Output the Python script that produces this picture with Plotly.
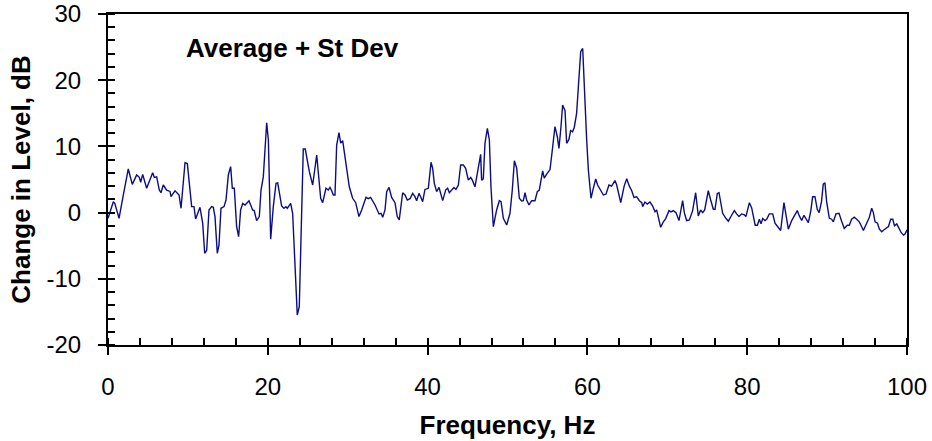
import plotly.graph_objects as go

freq = [0, 0.67, 0.85, 1.38, 1.92, 2.54, 3.04, 3.59, 3.92, 4.09, 4.34, 4.84, 5.59, 5.8, 6.09, 6.42, 6.63, 6.92,
        7.34, 7.76, 7.88, 8.39, 8.89, 9.14, 9.64, 9.93, 10.47, 10.76, 10.97, 11.51, 11.85, 12.1, 12.35, 12.64,
        12.97, 13.18, 13.39, 13.68, 13.89, 14.14, 14.52, 14.77, 15.06, 15.35, 15.56, 15.81, 16.1, 16.35, 16.6,
        16.86, 17.15, 17.65, 18.1, 18.3, 18.6, 18.94, 19.15, 19.44, 19.86, 20.07, 20.36, 20.69, 21.03, 21.24,
        21.73, 22.02, 22.27, 22.44, 22.86, 23.11, 23.69, 23.94, 24.44, 24.69, 25.2, 25.62, 26.12, 26.33, 26.62,
        26.87, 27.28, 27.57, 27.78, 28.0, 28.2, 28.41, 28.62, 28.91, 29.12, 29.37, 29.79, 30.2, 30.62, 31.0,
        31.41, 31.75, 32.29, 32.58, 32.87, 33.42, 33.92, 34.17, 34.38, 34.67, 34.88, 35.17, 35.5, 35.92, 36.2,
        36.45, 36.88, 37.17, 37.46, 37.8, 38.13, 38.42, 38.63, 38.92, 39.13, 39.38, 39.67, 40.09, 40.43, 40.63,
        40.84, 41.13, 41.43, 41.64, 41.89, 42.26, 42.51, 42.72, 43.1, 43.3, 43.55, 43.85, 44.14, 44.47, 44.76,
        45.1, 45.39, 45.6, 45.93, 46.35, 46.64, 46.76, 46.97, 47.18, 47.48, 47.73, 47.93, 48.23, 48.64, 48.98,
        49.19, 49.48, 49.9, 50.31, 50.6, 50.86, 51.15, 51.48, 51.77, 51.98, 52.19, 52.4, 52.69, 53.02, 53.44,
        53.73, 53.98, 54.4, 54.6, 54.9, 55.32, 55.61, 55.94, 56.23, 56.44, 56.69, 56.9, 57.2, 57.4, 57.69, 57.9,
        58.15, 58.36, 58.65, 58.86, 59.16, 59.41, 59.62, 59.91, 60.12, 60.45, 60.74, 61.04, 61.28, 61.58, 62.0,
        62.33, 62.7, 63.03, 63.45, 63.66, 64.17, 64.6, 64.92, 65.25, 65.55, 65.83, 66.17, 66.5, 66.8, 66.92,
        67.2, 67.5, 67.83, 68.17, 68.46, 68.67, 68.88, 69.17, 69.5, 69.8, 70.21, 70.46, 70.75, 71.09, 71.46,
        71.92, 72.13, 72.42, 72.76, 73.17, 73.55, 73.88, 74.17, 74.43, 74.68, 75.13, 75.43, 75.76, 75.97, 76.26,
        76.47, 76.93, 77.35, 77.64, 78.05, 78.39, 78.68, 78.97, 79.3, 79.59, 79.84, 80.27, 80.56, 81.0, 81.27,
        81.52, 81.73, 81.94, 82.23, 82.44, 82.77, 83.19, 83.48, 83.82, 84.19, 84.6, 84.86, 85.15, 85.57, 85.98,
        86.27, 86.52, 86.82, 87.1, 87.35, 87.65, 87.95, 88.19, 88.48, 88.77, 89.0, 89.3, 89.52, 89.73, 89.94,
        90.28, 90.57, 90.78, 91.11, 91.49, 91.82, 92.15, 92.53, 92.78, 93.07, 93.4, 93.7, 94.03, 94.24, 94.54,
        94.95, 95.29, 95.58, 95.79, 96.0, 96.3, 96.55, 96.84, 97.13, 97.47, 97.68, 97.96, 98.22, 98.43, 98.72,
        98.93, 99.26, 99.56, 99.77, 100.0]

level = [-0.86, 1.65, 1.4, -0.86, 2.66, 6.59, 4.27, 5.68, 5.33, 4.58, 5.78, 3.67, 6.03, 5.3, 5.4, 3.41, 3.0, 4.17,
         3.4, 3.2, 2.4, 3.3, 2.66, 0.65, 7.54, 7.4, 0.9, 0.9, -0.97, 0.8, -1.6, -6.15, -5.7, 0.4,
         0.9, 0.8, -0.6, -6.15, -4.9, 0.65, 0.9, 1.9, 5.68, 6.94, 3.67, 3.67, -2.13, -3.64, 0.4,
         1.4, 1.15, 1.8, 0.4, 0.3, -1.2, -0.6, 3.41, 5.43, 13.58, 11.0, -4.03, 0.9, 4.43, 4.5,
         1.0, 0.65, 0.9, 0.65, 1.4, -0.1, -15.47, -14.2, 9.6, 9.6, 6.18, 4.17, 8.7, 6.3, 2.16,
         1.5, 3.67, 3.4, 3.8, 3.3, 2.66, 2.66, 10.2, 12.07, 10.5, 10.86, 6.94, 3.9, 2.16, 1.5,
         -0.6, 0.4, 2.3, 2.1, 2.3, 1.15, -0.2, -0.1, -0.7, 0.4, 3.16, 3.8, 2.3, 1.5, -0.6,
         -1.1, 3.0, 2.66, 1.9, 2.1, 2.9, 2.4, 1.8, 2.9, 2.4, 1.65, 3.5, 3.67, 7.6, 6.7,
         4.42, 3.16, 3.8, 2.7, 1.8, 3.4, 3.67, 3.0, 3.5, 3.8, 3.5, 4.17, 7.2, 7.2, 6.7,
         4.9, 5.3, 4.9, 3.9, 6.94, 8.8, 4.9, 5.1, 10.47, 12.73, 11.0, 3.9, -2.13, 0.4, 1.8,
         1.65, -0.86, -1.87, -0.1, 3.41, 7.84, 6.7, 2.16, 1.75, 1.8, 3.0, 1.9, 1.15, 1.8, 1.8,
         3.16, 3.41, 6.3, 5.2, 5.8, 6.5, 9.46, 12.98, 11.5, 9.7, 12.9, 16.25, 15.4, 10.47, 11.06, 12.37,
         12.2, 12.9, 15.0, 18.26, 24.3, 24.8, 18.0, 10.97, 6.43, 2.16, 3.67, 5.08, 4.17, 3.5, 2.66,
         2.8, 4.17, 4.0, 4.83, 4.2, 1.5, 4.0, 5.1, 4.0, 3.3, 2.3, 2.4, 1.8, 1.5, 0.9,
         1.6, 1.3, 1.6, 1.0, 0.14, 0.4, -0.9, -2.22, -1.4, -0.9, 0.3, 0.1, 0.3, 0.0, -1.2,
         1.8, 0.0, -1.2, -1.1, 0.3, 3.0, -0.5, 0.4, 0.0, 0.4, 3.3, 1.9, 0.5, 0.5, 2.9,
         3.0, -0.1, -0.9, -1.3, -0.4, 0.3, -0.2, -0.6, -0.2, -0.3, -0.6, 1.5, 0.7, -1.9, -1.9,
         -1.0, -1.7, -0.9, -1.2, -1.0, -0.2, -0.2, -1.6, -2.1, -2.7, 1.5, -0.4, -2.5, -1.2, -0.2,
         0.3, -0.5, -1.2, -0.4, -0.9, -1.5, 0.2, 2.4, 2.4, 0.5, 0.0, 1.65, 4.3, 4.5, 1.65,
         -0.86, -1.0, -1.4, -0.2, -0.1, -1.3, -2.4, -1.9, -1.9, -1.0, -0.7, -1.0, -1.4, -1.9, -2.7,
         -1.6, -0.7, 0.65, 0.0, -1.4, -1.6, -2.5, -2.9, -2.6, -2.2, -2.1, -1.0, -1.0, -2.0, -1.7,
         -2.2, -3.0, -3.4, -3.2, -2.6]

x_ticks = [0, 20, 40, 60, 80, 100]
x_labels = ["0", "20", "40", "60", "80", "100"]
y_ticks = [-20, -10, 0, 10, 20, 30]
y_labels = ["-20", "-10", "0", "10", "20", "30"]

FONT = "Liberation Sans, Arial, sans-serif"

fig = go.Figure()
fig.add_trace(go.Scatter(x=freq, y=level, mode="lines",
                         line=dict(color="#0c0c86", width=1.4), showlegend=False))
# invisible trace for overlay axes (inner part of major ticks)
fig.add_trace(go.Scatter(x=[None], y=[None], xaxis="x2", yaxis="y2", showlegend=False, hoverinfo="skip"))

fig.update_layout(
    width=932, height=441,
    margin=dict(l=108, r=25, t=14, b=96),
    paper_bgcolor="white", plot_bgcolor="white",
    font=dict(family=FONT, color="black", size=24),
    xaxis=dict(range=[0, 100], tickvals=x_ticks, ticktext=x_labels, ticks="outside", ticklen=8, tickwidth=1.5,
               tickcolor="black", showgrid=False, zeroline=False, showline=True, linecolor="black",
               linewidth=2, mirror=True, ticklabelstandoff=11, automargin=False,
               minor=dict(ticks="inside", ticklen=7, dtick=4, tickwidth=1.5, tickcolor="black", showgrid=False),
               title=dict(text="<b>Frequency, Hz</b>", font=dict(size=26), standoff=17)),
    yaxis=dict(range=[-20, 30], tickvals=y_ticks, ticktext=y_labels, ticks="outside", ticklen=8, tickwidth=1.5,
               tickcolor="black", showgrid=False, zeroline=False, showline=True, linecolor="black",
               linewidth=2, mirror=True, ticklabelstandoff=12, automargin=False,
               minor=dict(ticks="inside", ticklen=7, dtick=2, tickwidth=1.5, tickcolor="black", showgrid=False),
               title=dict(text="<b>Change in Level, dB</b>", font=dict(size=26), standoff=8)),
    xaxis2=dict(range=[0, 100], overlaying="x", tickvals=x_ticks, ticks="inside", ticklen=7, tickwidth=1.5,
                tickcolor="black", showticklabels=False, showgrid=False, zeroline=False, showline=False,
                automargin=False),
    yaxis2=dict(range=[-20, 30], overlaying="y", tickvals=y_ticks, ticks="inside", ticklen=7, tickwidth=1.5,
                tickcolor="black", showticklabels=False, showgrid=False, zeroline=False, showline=False,
                automargin=False),
    annotations=[dict(text="<b>Average + St Dev</b>", xref="paper", yref="paper", x=0.0955, y=0.897,
                      xanchor="left", yanchor="middle", showarrow=False, font=dict(size=26))],
)

# remove the default page margin so the 932x441 figure fills the window exactly
fig.write_html("out.html", config={"displayModeBar": False},
               post_script="document.body.style.margin='0';document.body.style.overflow='hidden';")
